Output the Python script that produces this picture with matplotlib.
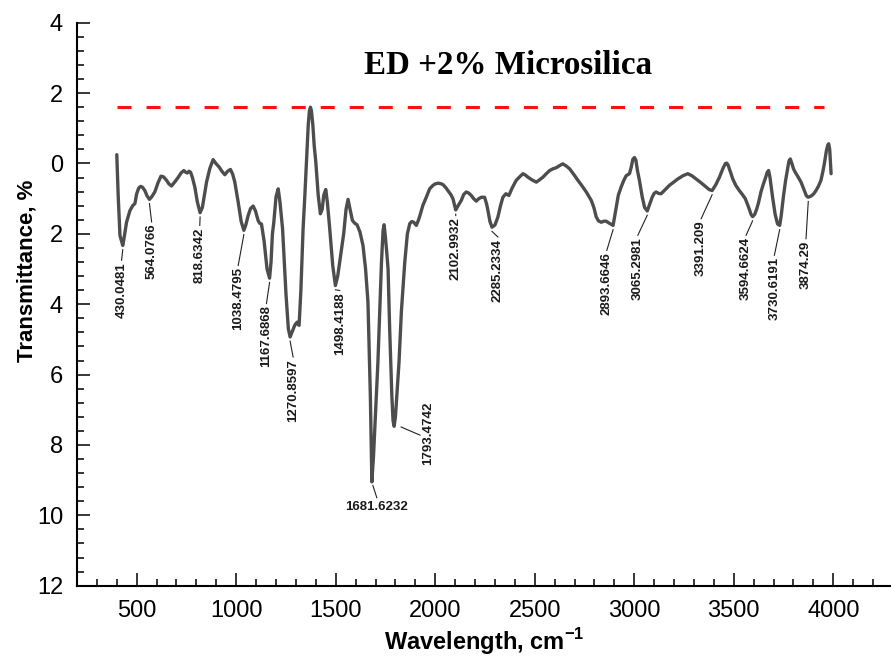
"""FTIR spectrum of ED +2% Microsilica with labelled absorption bands."""

import numpy as np
import matplotlib.pyplot as plt
import matplotlib.ticker as mticker

plt.rcParams["font.family"] = ["Liberation Sans", "DejaVu Sans"]
plt.rcParams["mathtext.fontset"] = "custom"
plt.rcParams["mathtext.rm"] = "Liberation Sans"
plt.rcParams["mathtext.bf"] = "Liberation Sans:bold"

# spectrum: wavenumber (cm-1) and transmittance depth (plotted downwards)
wavenumber = [
    400, 407, 416, 430.0481, 436, 449, 466, 480, 491, 500, 510, 520, 530, 541,
    552, 564.0766, 575, 591, 607, 622, 635, 650, 662, 675, 692, 709, 723, 737,
    746, 754, 763, 771, 780, 792, 805, 818.6342, 830, 840, 851, 867, 884, 898,
    914, 928, 943, 957, 971, 982, 993, 1010, 1025, 1038.4795, 1048, 1060,
    1072, 1085, 1097, 1110, 1118, 1127, 1140, 1155, 1167.6868, 1175, 1182,
    1189, 1200, 1211, 1220, 1233, 1250, 1262, 1270.8597, 1280, 1294, 1300,
    1306, 1312, 1316, 1325, 1336, 1345, 1353, 1362, 1368, 1373, 1378, 1385,
    1392, 1400, 1412, 1423, 1432, 1440, 1450, 1458, 1470, 1485, 1498.4188,
    1510, 1525, 1540, 1552, 1562, 1572, 1584, 1596, 1607, 1622, 1637, 1650,
    1662, 1674, 1681.6232, 1690, 1700, 1712, 1721, 1730, 1738, 1743,
    1749, 1756, 1763, 1771, 1782, 1788, 1793.4742, 1800, 1808, 1818, 1830,
    1847, 1860, 1872, 1882, 1892, 1905, 1915, 1922, 1938, 1955, 1972, 1989,
    2000, 2014, 2026, 2039, 2052, 2064, 2078, 2089, 2102.9932, 2115, 2131,
    2143, 2156, 2168, 2181, 2193, 2206, 2219, 2232, 2248, 2258, 2265, 2275,
    2285.2334, 2300, 2315, 2328, 2340, 2355, 2370, 2388, 2407, 2424, 2441,
    2453, 2466, 2487, 2508, 2525, 2541, 2558, 2575, 2592, 2608, 2625, 2641,
    2658, 2675, 2696, 2717, 2738, 2759, 2784, 2797, 2809, 2820, 2834, 2847,
    2859, 2875, 2893.6646, 2900, 2909, 2920, 2934, 2946, 2959, 2976, 2985,
    2993, 3001, 3008, 3016, 3026, 3040, 3052, 3065.2981, 3075, 3090, 3100,
    3110, 3122, 3135, 3156, 3177, 3198, 3219, 3244, 3269, 3290, 3311, 3336,
    3361, 3376, 3391.209, 3410, 3428, 3445, 3458, 3465, 3472, 3482, 3495,
    3510, 3528, 3543, 3558, 3575, 3587, 3594.6624, 3605, 3615, 3625, 3637,
    3649, 3660, 3668, 3675, 3682, 3695, 3708, 3720, 3730.6191, 3738, 3749,
    3760, 3772, 3778, 3784, 3792, 3800, 3809, 3823, 3838, 3855, 3865,
    3874.29, 3890, 3902, 3913, 3925, 3938, 3948, 3955, 3965, 3972, 3977,
    3982, 3986, 3989,
]
depth = [
    -0.25, 0.91, 2.05, 2.33, 2.14, 1.67, 1.34, 1.20, 1.14, 0.86, 0.70, 0.65,
    0.68, 0.77, 0.92, 1.02, 0.95, 0.81, 0.55, 0.36, 0.38, 0.48, 0.58, 0.64,
    0.52, 0.39, 0.27, 0.20, 0.25, 0.27, 0.22, 0.25, 0.40, 0.67, 1.10, 1.40,
    1.25, 0.90, 0.53, 0.15, -0.11, 0.00, 0.10, 0.22, 0.32, 0.22, 0.17, 0.30,
    0.53, 1.10, 1.65, 1.90, 1.75, 1.48, 1.28, 1.21, 1.35, 1.62, 1.70, 1.72,
    2.20, 3.00, 3.26, 2.80, 2.00, 1.67, 0.95, 0.72, 1.10, 1.86, 3.70, 4.70,
    4.93, 4.80, 4.60, 4.55, 4.51, 4.58, 4.60, 3.60, 1.86, 0.90, -0.04, -1.10,
    -1.50, -1.60, -1.50, -1.10, -0.50, -0.04, 0.90, 1.43, 1.30, 0.90, 0.74,
    1.10, 1.86, 2.90, 3.47, 3.20, 2.60, 2.00, 1.30, 1.02, 1.30, 1.62, 1.70,
    1.74, 1.95, 2.33, 3.00, 3.94, 6.59, 9.05, 8.30, 7.10, 5.65, 4.20,
    2.80, 1.90, 1.74, 2.05, 2.50, 2.99, 4.69, 6.60, 7.30, 7.47, 7.20, 6.50,
    5.65, 4.20, 2.80, 2.00, 1.71, 1.65, 1.67, 1.76, 1.62, 1.50, 1.19, 0.96,
    0.72, 0.62, 0.58, 0.56, 0.57, 0.60, 0.68, 0.77, 0.88, 1.00, 1.32, 1.20,
    1.05, 0.88, 0.81, 0.84, 0.91, 1.00, 1.07, 1.00, 0.96, 0.96, 1.15, 1.34,
    1.65, 1.81, 1.75, 1.52, 1.20, 0.96, 0.86, 0.91, 0.68, 0.48, 0.38, 0.29,
    0.33, 0.39, 0.47, 0.53, 0.46, 0.39, 0.29, 0.20, 0.15, 0.12, 0.06, 0.01,
    0.07, 0.15, 0.31, 0.48, 0.64, 0.81, 1.05, 1.25, 1.52, 1.63, 1.67, 1.64,
    1.64, 1.70, 1.76, 1.55, 1.24, 0.90, 0.67, 0.50, 0.35, 0.29, 0.10, -0.12,
    -0.17, -0.10, 0.20, 0.48, 0.95, 1.25, 1.35, 1.20, 0.96, 0.85, 0.81, 0.85,
    0.86, 0.74, 0.62, 0.53, 0.44, 0.35, 0.29, 0.35, 0.44, 0.55, 0.67, 0.74,
    0.77, 0.60, 0.39, 0.15, 0.00, -0.01, 0.05, 0.22, 0.44, 0.62, 0.77, 0.88,
    1.00, 1.25, 1.45, 1.51, 1.45, 1.30, 1.10, 0.80, 0.58, 0.40, 0.25, 0.20,
    0.40, 0.96, 1.45, 1.72, 1.76, 1.50, 0.96, 0.50, 0.10, -0.08, -0.13, 0.00,
    0.15, 0.25, 0.38, 0.53, 0.78, 0.92, 0.96, 0.92, 0.86, 0.77, 0.65, 0.48,
    0.22, 0.01, -0.35, -0.52, -0.56, -0.40, 0.00, 0.29,
]

# labelled band minima
peak_labels = [
    "430.0481", "564.0766", "818.6342", "1038.4795", "1167.6868", "1270.8597",
    "1498.4188", "1681.6232", "1793.4742", "2102.9932", "2285.2334",
    "2893.6646", "3065.2981", "3391.209", "3594.6624", "3730.6191", "3874.29",
]

# reference level (highest transmittance peak) and its span
ref_level = -1.6
ref_span = [400, 3955]

# text anchor of each band label (wavenumber, depth at top of text)
label_pos = [
    (424, 2.80), (575, 1.71), (817, 1.81), (1010, 2.95), (1152, 4.03),
    (1286, 5.55), (1520, 3.66), (1705, 9.77), (1964, 6.78), (2103, 1.53),
    (2315, 2.14), (2862, 2.52), (3018, 2.09), (3336, 1.62), (3562, 2.09),
    (3704, 2.66), (3863, 2.19),
]

fig = plt.figure(figsize=(8.91, 6.59), dpi=100)
ax = fig.add_axes([0.0864, 0.1112, 0.9136, 0.8543])

ax.plot(wavenumber, depth, color="#4d4d4d", linewidth=2.4,
        solid_joinstyle="round", solid_capstyle="round", zorder=3)
ax.plot(ref_span, [ref_level, ref_level], color="#ff1010", linewidth=2.2,
        dashes=(4.6, 4.9), zorder=2)

for lab, (lx, ly) in zip(peak_labels, label_pos):
    px = float(lab)
    py = np.interp(px, wavenumber, depth)
    if lab == "1681.6232":
        ax.plot([px + 5, px + 25], [py + 0.1, py + 0.45], color="#222222", lw=0.8)
        ax.text(lx, ly, lab, ha="center", va="center", fontsize=9.5,
                fontweight="bold", color="#1a1a1a")
    elif lab == "1793.4742":
        ax.plot([px + 35, px + 130], [py + 0.02, py + 0.25], color="#222222", lw=0.8)
        ax.text(lx, ly, lab, rotation=90, ha="center", va="top", fontsize=9.5,
                fontweight="bold", color="#1a1a1a")
    else:
        ax.plot([px, lx], [py + 0.12, ly - 0.05], color="#222222", lw=0.8)
        ax.text(lx, ly, lab, rotation=90, ha="center", va="top", fontsize=9.5,
                fontweight="bold", color="#1a1a1a")

ax.set_xlim(200, 4290)
ax.set_ylim(12, -4)

ax.xaxis.set_major_locator(mticker.FixedLocator(np.arange(500, 4001, 500)))
ax.xaxis.set_minor_locator(mticker.MultipleLocator(100))
ax.yaxis.set_major_locator(mticker.MultipleLocator(2))
ax.yaxis.set_minor_locator(mticker.MultipleLocator(0.4))
ax.yaxis.set_major_formatter(mticker.FuncFormatter(lambda v, _: f"{abs(v):.0f}"))

ax.tick_params(which="both", direction="in", width=1.1, labelsize=17, pad=10)
ax.tick_params(which="major", length=9.5)
ax.tick_params(which="minor", length=5)

for side in ("top", "right"):
    ax.spines[side].set_visible(False)
for side in ("left", "bottom"):
    ax.spines[side].set_linewidth(1.5)

ax.set_xlabel(r"Wavelength, cm$^{\mathbf{-1}}$", fontsize=17, fontweight="bold")
ax.xaxis.set_label_coords(0.5, -0.072)
ax.set_ylabel("Transmittance, %", fontsize=16, fontweight="bold")
ax.yaxis.set_label_coords(-0.048, 0.56)

fig.text(508 / 891, 1 - 66 / 659, "ED +2% Microsilica", ha="center", va="center",
         fontsize=23.8, fontweight="bold", family="Liberation Serif")

fig.savefig("out.png", dpi=100)
